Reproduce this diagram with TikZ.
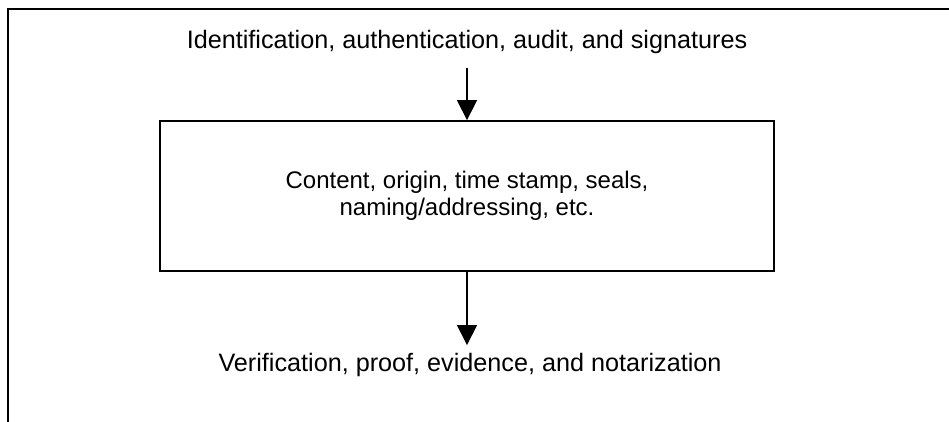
\documentclass[tikz,border=0pt]{standalone}
\usepackage{fontspec}
\setmainfont{Liberation Sans}
\usepackage{tikz}
\usetikzlibrary{arrows.meta,positioning}

\begin{document}
\begin{tikzpicture}[
    x=1pt, y=-1pt,
    font=\fontsize{25.2}{27.5}\selectfont,
    label/.style={align=center, inner sep=2pt},
    block/.style={rectangle, draw, line width=1.8pt, align=center, minimum width=614pt, minimum height=150pt,
        font=\fontsize{24}{27}\selectfont},
    arrow/.style={-{Triangle[length=20pt,width=20pt]}, line width=1.5pt},
    frame/.style={line width=2pt}
]
\useasboundingbox (0,0) rectangle (949,422);

% open frame round the figure
\draw[frame] (8,422) -- (8,9) -- (949,9);

\node[label] (ident) at (467,42) {Identification, authentication, audit, and signatures};
\node[block] (record) at (467,196) {\raisebox{-9pt}{\parbox{400pt}{\centering Content, origin, time stamp, seals,\\naming/addressing, etc.}}};
\node[label] (verif) at (470,365) {Verification, proof, evidence, and notarization};

\draw[arrow, shorten <=12pt] (ident) -- (record);
\draw[arrow, shorten >=6pt] (record.south) -- (record.south |- verif.north);
\end{tikzpicture}
\end{document}
